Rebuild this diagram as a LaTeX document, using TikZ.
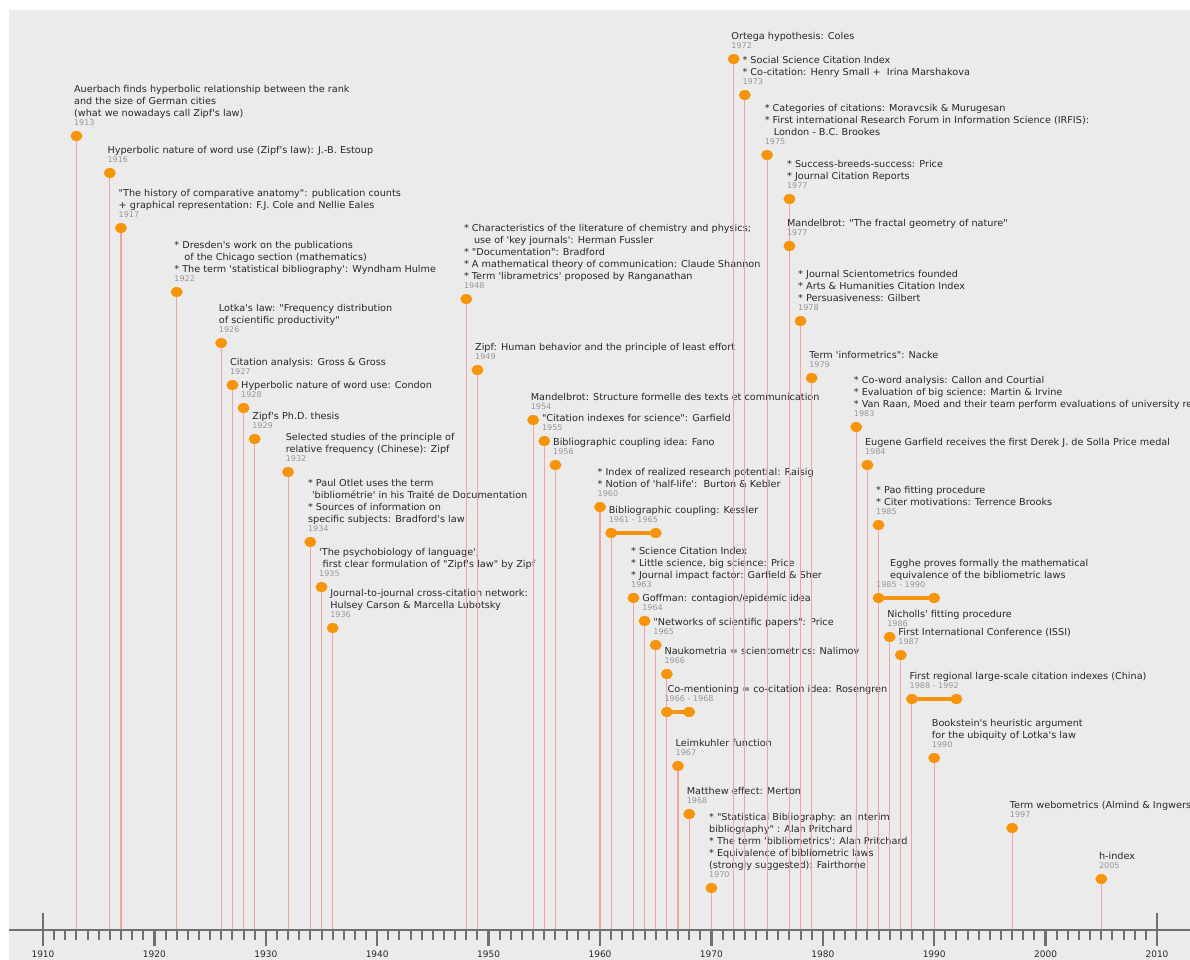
\documentclass[tikz,border=0pt]{standalone}
\usepackage{fontspec}
\usetikzlibrary{shapes.geometric}
\newfontfamily\djs{DejaVu Sans}[FakeStretch=1.02]
\newfontfamily\djn{DejaVu Sans}
\definecolor{bgc}{RGB}{235,235,235}
\definecolor{dotc}{RGB}{247,148,10}
\definecolor{stemc}{RGB}{240,165,160}
\definecolor{axisc}{RGB}{112,112,112}
\definecolor{txtc}{RGB}{40,40,40}
\definecolor{yrc}{RGB}{150,150,150}
\tikzset{
  evdot/.style={ellipse, minimum width=12pt, minimum height=10pt, inner sep=0pt, fill=dotc},
  evtitle/.style={anchor=base west, align=left, inner sep=0pt, text=txtc, font=\djs\fontsize{9.5}{11.9}\selectfont},
  evyear/.style={anchor=base west, inner sep=0pt, text=yrc, font=\djs\fontsize{7.9}{9}\selectfont},
  evstem/.style={draw=stemc, line width=1.1pt},
  evbar/.style={draw=dotc, line width=4pt},
  axline/.style={draw=axisc, line width=2.5pt},
  axlab/.style={inner sep=0pt, text=txtc, font=\djn\fontsize{9}{10}\selectfont},
}
% #1 title x-offset, #2 name, #3 year, #4 dot y, #5 number of lines, #6 text
\newcommand\ev[6][0]{%
  \pgfmathsetmacro\ex{43+(#3-1910)*11.14}%
  \pgfmathsetmacro\ty{#4-19.5}%
  \coordinate (a#2) at (\ex,930);
  \node[evdot] (d#2) at (\ex,#4) {};
  \draw[evstem] (d#2.south) -- (a#2);
  \node[evtitle] (t#2) at ({\ex-2.5+#1},\ty) {#6};
  \node[evyear] (y#2) at ({\ex-2.5},#4-10.5) {#3};
}
% #1 title x-offset, #2 name, #3 from, #4 to, #5 bar y, #6 lines, #7 text
\newcommand\rg[7][0]{%
  \pgfmathsetmacro\ex{43+(#3-1910)*11.14}%
  \pgfmathsetmacro\ez{43+(#4-1910)*11.14}%
  \pgfmathsetmacro\ty{#5-19.5}%
  \coordinate (a#2) at (\ex,930);
  \draw[evstem] (\ex,#5) -- (a#2);
  \node[evdot] (d#2) at (\ex,#5) {};
  \node[evdot] (e#2) at (\ez,#5) {};
  \draw[evbar] (d#2.center) -- (e#2.center);
  \node[evtitle] (t#2) at ({\ex-2.5+#1},\ty) {#7};
  \node[evyear] (y#2) at ({\ex-2.5},#5-10.5) {#3 - #4};
}
\begin{document}
\begin{tikzpicture}[x=1pt,y=-1pt]
\useasboundingbox (0,0) rectangle (1190,960);
\begin{scope}
\clip (0,0) rectangle (1190,960);
\fill[white] (0,0) rectangle (1190,960);
\fill[bgc] (9,10) rectangle (1190,960);

\ev{a}{1913}{136}{3}{Auerbach finds hyperbolic relationship between the rank\\and the size of German cities\\(what we nowadays call Zipf's law)}
\ev{b}{1916}{173}{1}{Hyperbolic nature of word use (Zipf's law): J.-B. Estoup}
\ev{c}{1917}{228}{2}{"The history of comparative anatomy": publication counts\\+ graphical representation: F.J. Cole and Nellie Eales}
\ev{d}{1922}{292}{3}{* Dresden's work on the publications\\\hspace*{10pt}of the Chicago section (mathematics)\\* The term 'statistical bibliography': Wyndham Hulme}
\ev{e}{1926}{343}{2}{Lotka's law: "Frequency distribution\\of scientific productivity"}
\ev{f}{1927}{385}{1}{Citation analysis: Gross \& Gross}
\ev{g}{1928}{408}{1}{Hyperbolic nature of word use: Condon}
\ev{h}{1929}{439}{1}{Zipf's Ph.D. thesis}
\ev{i}{1932}{472}{2}{Selected studies of the principle of\\relative frequency (Chinese): Zipf}
\ev{j}{1934}{542}{4}{* Paul Otlet uses the term\\\hspace*{4pt}'bibliométrie' in his Traité de Documentation\\* Sources of information on\\specific subjects: Bradford's law}
\ev{k}{1935}{587}{2}{'The psychobiology of language';\\\hspace*{3.5pt}first clear formulation of "Zipf's law" by Zipf}
\ev{l}{1936}{628}{2}{Journal-to-journal cross-citation network:\\Hulsey Carson \& Marcella Lubotsky}
\ev{m}{1948}{299}{5}{* Characteristics of the literature of chemistry and physics;\\\hspace*{10pt}use of 'key journals': Herman Fussler\\* "Documentation": Bradford\\* A mathematical theory of communication: Claude Shannon\\* Term 'librametrics' proposed by Ranganathan}
\ev{n}{1949}{370}{1}{Zipf: Human behavior and the principle of least effort}
\ev{o}{1954}{420}{1}{Mandelbrot: Structure formelle des texts et communication}
\ev{p}{1955}{441}{1}{"Citation indexes for science": Garfield}
\ev{q}{1956}{465}{1}{Bibliographic coupling idea: Fano}
\ev{r}{1960}{507}{2}{* Index of realized research potential: Raisig\\* Notion of 'half-life':\ \ Burton \& Kebler}
\rg{s}{1961}{1965}{533}{1}{Bibliographic coupling: Kessler}
\ev{t}{1963}{598}{3}{* Science Citation Index\\* Little science, big science: Price\\* Journal impact factor: Garfield \& Sher}
\ev{u}{1964}{621}{1}{Goffman: contagion/epidemic idea}
\ev{v}{1965}{645}{1}{"Networks of scientific papers": Price}
\ev{w}{1966}{674}{1}{Naukometria = scientometrics: Nalimov}
\rg[3]{x}{1966}{1968}{712}{1}{Co-mentioning = co-citation idea: Rosengren}
\ev{y}{1967}{766}{1}{Leimkuhler function}
\ev{z}{1968}{814}{1}{Matthew effect: Merton}
\ev{A}{1970}{888}{5}{* "Statistical Bibliography: an interim\\bibliography" : Alan Pritchard\\* The term 'bibliometrics': Alan Pritchard\\* Equivalence of bibliometric laws\\(strongly suggested): Fairthorne}
\ev{B}{1972}{59}{1}{Ortega hypothesis: Coles}
\ev{C}{1973}{95}{2}{* Social Science Citation Index\\* Co-citation: Henry Small +\ \ Irina Marshakova}
\ev{D}{1975}{155}{3}{* Categories of citations: Moravcsik \& Murugesan\\* First international Research Forum in Information Science (IRFIS):\\\hspace*{9pt}London - B.C. Brookes}
\ev{E}{1977}{199}{2}{* Success-breeds-success: Price\\* Journal Citation Reports}
\ev{F}{1977}{246}{1}{Mandelbrot: "The fractal geometry of nature"}
\ev{G}{1978}{321}{3}{* Journal Scientometrics founded\\* Arts \& Humanities Citation Index\\* Persuasiveness: Gilbert}
\ev{H}{1979}{378}{1}{Term 'informetrics": Nacke}
\ev{I}{1983}{427}{3}{* Co-word analysis: Callon and Courtial\\* Evaluation of big science: Martin \& Irvine\\* Van Raan, Moed and their team perform evaluations of university re}
\ev{J}{1984}{465}{1}{Eugene Garfield receives the first Derek J. de Solla Price medal}
\ev{K}{1985}{525}{2}{* Pao fitting procedure\\* Citer motivations: Terrence Brooks}
\rg[14]{L}{1985}{1990}{598}{2}{Egghe proves formally the mathematical\\equivalence of the bibliometric laws}
\ev{M}{1986}{637}{1}{Nicholls' fitting procedure}
\ev{N}{1987}{655}{1}{First International Conference (ISSI)}
\rg{O}{1988}{1992}{699}{1}{First regional large-scale citation indexes (China)}
\ev{P}{1990}{758}{2}{Bookstein's heuristic argument\\for the ubiquity of Lotka's law}
\ev{Q}{1997}{828}{1}{Term webometrics (Almind \& Ingwers}
\ev{R}{2005}{879}{1}{h-index}

% axis
\coordinate (axL) at (9,930);
\coordinate (axR) at (1190,930);
\draw[axline] (axL) -- (axR);
\foreach \yr in {1911,...,2009}{
  \draw[axisc, line width=2pt] ({43+(\yr-1910)*11.14},930) -- ++(0,10);
}
\foreach \yr in {1920,1930,...,2000}{
  \draw[axline] ({43+(\yr-1910)*11.14},930) -- ++(0,16);
}
\foreach \yr in {1910,2010}{
  \draw[axline] ({43+(\yr-1910)*11.14},913) -- ++(0,33);
}
\foreach \yr in {1910,1920,...,2010}{
  \node[axlab] (lab\yr) at ({43+(\yr-1910)*11.14},954) {\yr};
}
\end{scope}
\end{tikzpicture}
\end{document}
